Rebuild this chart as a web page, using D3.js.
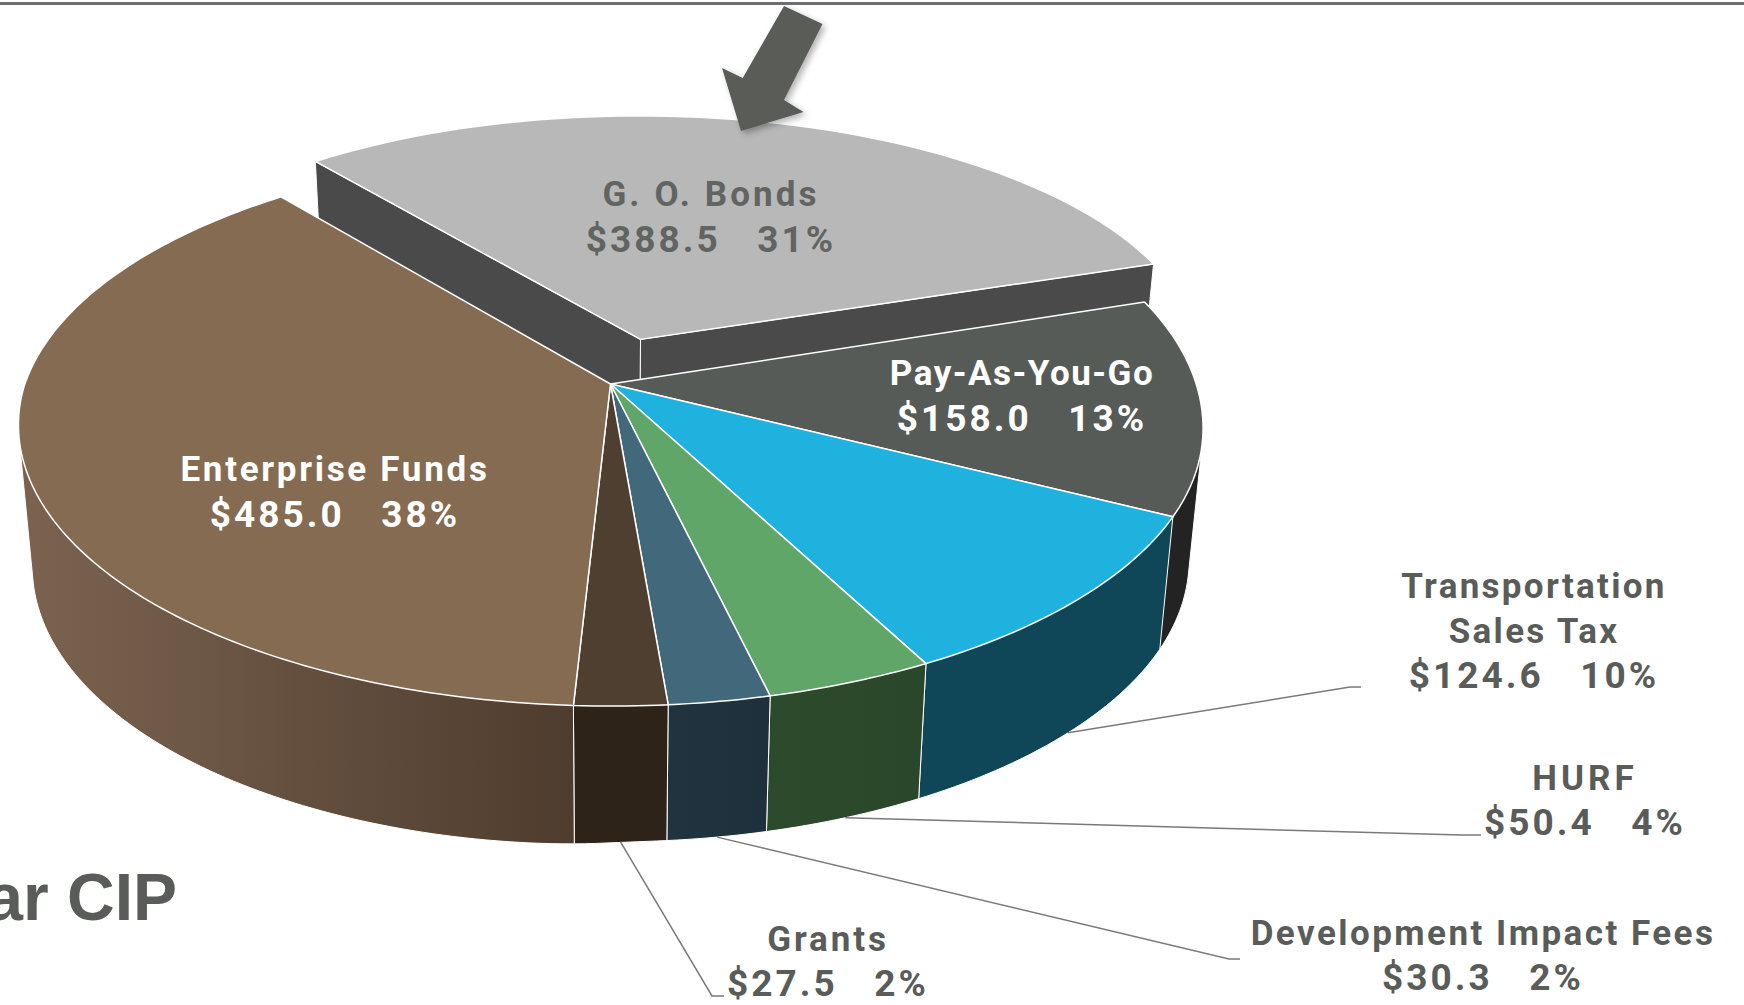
<!DOCTYPE html>
<html>
<head>
<meta charset="utf-8">
<script src="https://cdn.jsdelivr.net/npm/d3@7"></script>
<style>
  html, body { margin: 0; padding: 0; background: #fff; overflow: hidden; }
  svg { display: block; }
  text { font-family: Roboto, sans-serif; font-weight: 700; white-space: pre; }
</style>
</head>
<body>
<div id="chart"></div>
<script>
// Chart values, clockwise from the exploded slice.
const categories = ["G. O. Bonds", "Pay-As-You-Go", "Transportation Sales Tax", "HURF",
  "Development Impact Fees", "Grants", "Enterprise Funds"];
const amounts = [388.5, 158.0, 124.6, 50.4, 30.3, 27.5, 485.0];
const percents = [31, 13, 10, 4, 2, 2, 38];

// Colours per slice, same order.
const topColors = ["#b8b8b8", "#575b57", "#20b2de", "#5fa668", "#42687c", "#4f3f30", "#846b51"];
const wallLeft = ["#4a4a4a", "#232323", "#0f4758", "#2c4a2c", "#20333f", "#2e2319", "#7b6350"];
const wallRight = ["#4a4a4a", "#232323", "#0f4758", "#2b472b", "#1e303c", "#2e2319", "#4e3c2e"];
const labelColors = ["#626462", "#ffffff", "#5a5c59", "#5a5c59", "#5a5c59", "#5a5c59", "#ffffff"];

// Label placement: split name lines, centre x, first baseline y.
const labelLines = [["G. O. Bonds"], ["Pay-As-You-Go"], ["Transportation", "Sales Tax"], ["HURF"],
  ["Development Impact Fees"], ["Grants"], ["Enterprise Funds"]];
const labelX = [711, 1022, 1534, 1585, 1483, 828, 335];
const labelY = [206, 385, 598, 790, 945, 951, 481];
const labelStep = [46, 46, 45, 45, 45, 45, 46];
const nameSpacing = [3.1, 1.5, 2.3, 4, 2.45, 2.9, 2.7];
const valueSpacing = 3;

// Leader line elbow and end, slices without a leader are null.
const leaderElbow = [null, null, [1350, 687], [1461, 835], [1229, 959], [712, 996], null];
const leaderEnd = [null, null, [1361, 687], [1481, 835], [1240, 959], [724, 996], null];

const width = 1744;
const height = 1005;

// The disc is drawn with a projective map, so the centre sits above the middle of the ellipse.
const perspective = 0.146;
const topDisc = { cx: 610.5, cy: 384, a: 585.7, b: 275, sag: 0, back: 0 };
// the back left of the big slice sits a few pixels lower than the ellipse
const enterpriseDisc = { cx: 610.5, cy: 384, a: 585.7, b: 275, sag: 0, back: 6 };
// the lower rim hangs a bit further on the left in the reference
const bottomDisc = { cx: 610.5, cy: 514, a: 572, b: 280, sag: 11, back: 0 };
const explode = 0.165;
const goRadius = 0.99;

const svg = d3.select("#chart").append("svg")
    .attr("width", width)
    .attr("height", height);

const defs = svg.append("defs");

const shadow = defs.append("filter").attr("id", "arrow-shadow")
    .attr("x", "-30%").attr("y", "-30%").attr("width", "160%").attr("height", "160%");
shadow.append("feDropShadow")
    .attr("dx", 3).attr("dy", 3).attr("stdDeviation", 3)
    .attr("flood-color", "#000").attr("flood-opacity", 0.3);

// rule along the top of the page
svg.append("rect")
    .attr("x", 0).attr("y", 2)
    .attr("width", width).attr("height", 3)
    .attr("fill", "#6d6e71");

const pie = d3.pie()
    .sort(null)
    .startAngle(-38.8 * Math.PI / 180)
    .endAngle((360 - 38.8) * Math.PI / 180);
const arcs = pie(amounts);

const line = d3.line().curve(d3.curveLinear);

// Disc coordinates (u right, v towards the viewer) to the page.
function project(u, v, disc) {
    const w = 1 - perspective * v;
    const right = Math.min(Math.max(u, 0), 1);
    const lean = 4 * Math.sqrt(right) * (1 - Math.pow(right, 12));
    const sag = u < 0 ? disc.sag * Math.sqrt(Math.min(-u, 1)) : 0;
    const back = u < 0 && v < 0 ? disc.back * Math.sqrt(Math.min(-v, 1)) : 0;
    return [disc.cx + disc.a * u / w + lean, disc.cy + disc.b * v / w + sag + back];
}

function rimPoint(angle, disc, offset, radius) {
    return project(radius * Math.sin(angle) + offset[0], -radius * Math.cos(angle) + offset[1], disc);
}

function rimPoints(a0, a1, disc, offset, radius) {
    const steps = Math.max(2, Math.ceil(Math.abs(a1 - a0) * 60));
    return d3.range(steps + 1).map(i => rimPoint(a0 + (a1 - a0) * i / steps, disc, offset, radius));
}

const noOffset = [0, 0];
const midGo = (arcs[0].startAngle + arcs[0].endAngle) / 2;
// apex and rim of the exploded slice are nudged apart a little to sit on the reference
const goApex = [Math.sin(midGo) * explode + 0.004, -Math.cos(midGo) * explode - 0.008];
const goRim = [Math.sin(midGo) * explode + 0.002, -Math.cos(midGo) * explode + 0.012];

// the right end of the exploded rim is flatter, so lift it back up
function goRimPoint(angle, disc) {
    const lift = 0.012 * Math.max(Math.sin(angle), 0);
    return rimPoint(angle, disc, [goRim[0], goRim[1] - lift], goRadius);
}

// Exploded slice first: its cut faces go behind the neighbours.
[arcs[0].startAngle, arcs[0].endAngle].forEach(angle => {
    svg.append("path")
        .attr("d", line([
            project(goApex[0], goApex[1], topDisc),
            goRimPoint(angle, topDisc),
            goRimPoint(angle, bottomDisc),
            project(goApex[0], goApex[1], bottomDisc)
        ]) + "Z")
        .attr("fill", wallLeft[0])
        .attr("stroke", "#fff")
        .attr("stroke-width", 1)
        .attr("stroke-linejoin", "round");
});

const goSteps = d3.range(0, 61).map(i => arcs[0].startAngle + (arcs[0].endAngle - arcs[0].startAngle) * i / 60);
svg.append("path")
    .attr("d", line([project(goApex[0], goApex[1], topDisc)]
        .concat(goSteps.map(angle => goRimPoint(angle, topDisc)))) + "Z")
    .attr("fill", topColors[0])
    .attr("stroke", "#fff")
    .attr("stroke-width", 1.5)
    .attr("stroke-linejoin", "round");

// Outer walls of the other slices, then their top faces.
// The hull gives the straight silhouette between upper and lower rim at the sides.
const upperDisc = i => i === categories.length - 1 ? enterpriseDisc : topDisc;

arcs.slice(1).forEach((d, n) => {
    const i = n + 1;
    const top = rimPoints(d.startAngle, d.endAngle, upperDisc(i), noOffset, 1);
    const bottom = rimPoints(d.startAngle, d.endAngle, bottomDisc, noOffset, 1);
    const hull = d3.polygonHull(top.concat(bottom));
    const xs = d3.extent(hull, p => p[0]);

    const grad = defs.append("linearGradient")
        .attr("id", "wall-" + i)
        .attr("gradientUnits", "userSpaceOnUse")
        .attr("x1", xs[0]).attr("x2", xs[1])
        .attr("y1", 0).attr("y2", 0);
    grad.append("stop").attr("offset", 0).attr("stop-color", wallLeft[i]);
    grad.append("stop").attr("offset", 1).attr("stop-color", wallRight[i]);

    svg.append("path")
        .attr("d", line(hull) + "Z")
        .attr("fill", "url(#wall-" + i + ")")
        .attr("stroke", "#fff")
        .attr("stroke-width", 1)
        .attr("stroke-linejoin", "round");
});

arcs.slice(1).forEach((d, n) => {
    const i = n + 1;
    svg.append("path")
        .attr("d", line([project(0, 0, topDisc)]
            .concat(rimPoints(d.startAngle, d.endAngle, upperDisc(i), noOffset, 1))) + "Z")
        .attr("fill", topColors[i])
        .attr("stroke", "#fff")
        .attr("stroke-width", 1.5)
        .attr("stroke-linejoin", "round");
});

// Leader lines start on the lower rim at the middle of the slice.
arcs.forEach((d, i) => {
    if (!leaderEnd[i]) return;
    svg.append("path")
        .attr("d", line([rimPoint((d.startAngle + d.endAngle) / 2, bottomDisc, noOffset, 1),
            leaderElbow[i], leaderEnd[i]]))
        .attr("fill", "none")
        .attr("stroke", "#7a7a7a")
        .attr("stroke-width", 1.5);
});

// Arrow pointing at the G. O. Bonds slice.
const arrowShape = [[784, 6], [822.5, 24], [784, 100], [803.5, 112], [741, 131], [722, 68], [742.7, 78]];
svg.append("path")
    .attr("d", line(arrowShape) + "Z")
    .attr("fill", "#5a5c59")
    .attr("filter", "url(#arrow-shadow)");

// Slice labels
categories.forEach((name, i) => {
    const valueRow = "$" + amounts[i].toFixed(1) + "   " + percents[i] + "%";
    const rows = labelLines[i].concat(valueRow);
    svg.append("g").selectAll("text")
        .data(rows)
        .join("text")
        .attr("x", labelX[i])
        .attr("y", (d, r) => labelY[i] + r * labelStep[i])
        .attr("text-anchor", "middle")
        .attr("font-size", d => d === valueRow ? 37 : 35)
        .attr("letter-spacing", d => d === valueRow ? valueSpacing : nameSpacing[i])
        .attr("fill", labelColors[i])
        .text(d => d);
});

// What is left of the slide title at the page edge.
svg.append("text")
    .attr("x", 177)
    .attr("y", 920)
    .attr("text-anchor", "end")
    .attr("font-size", 66)
    .attr("fill", "#5a5c59")
    .style("font-family", "'Liberation Sans', sans-serif")
    .text("ar CIP");
</script>
</body>
</html>
